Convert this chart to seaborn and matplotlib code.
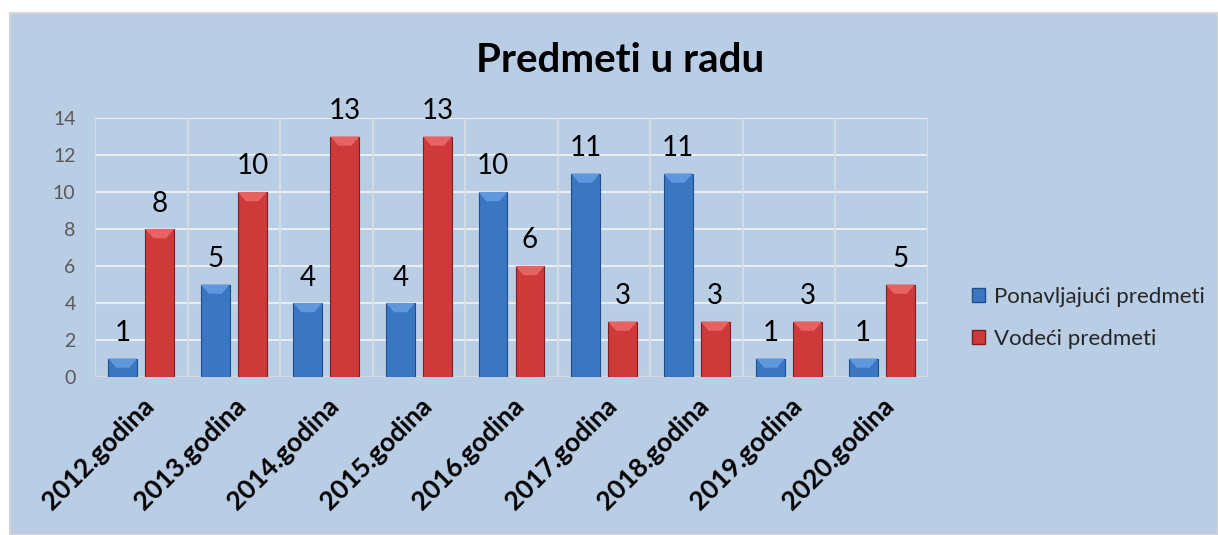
import pandas as pd
import seaborn as sns
import matplotlib.pyplot as plt
from matplotlib.patches import Rectangle, Polygon

# Data
years = ['2012.godina', '2013.godina', '2014.godina', '2015.godina', '2016.godina',
         '2017.godina', '2018.godina', '2019.godina', '2020.godina']
ponavljajuci = [1, 5, 4, 4, 10, 11, 11, 1, 1]
vodeci = [8, 10, 13, 13, 6, 3, 3, 3, 5]
series_names = ['Ponavljajući predmeti', 'Vodeći predmeti']

df = pd.DataFrame({'Godina': years * 2,
                   'Broj': ponavljajuci + vodeci,
                   'Vrsta': [series_names[0]] * len(years) + [series_names[1]] * len(years)})

sns.set_theme(style='white')
plt.rcParams['font.family'] = ['Lato', 'DejaVu Sans']

bg = '#B9CDE5'
colors = {series_names[0]: '#3A76C2', series_names[1]: '#CE3A3A'}
edges = {series_names[0]: '#1F4E8C', series_names[1]: '#7E1F1F'}
bevels = {series_names[0]: '#5F98DD', series_names[1]: '#E86262'}

fig = plt.figure(figsize=(12.18, 5.35), dpi=100)
fig.patch.set_facecolor('white')
fig.patches.append(Rectangle((10 / 1218, 0), 1 - 10 / 1218, 1 - 13 / 535, transform=fig.transFigure,
                             facecolor=bg, edgecolor='#D6D6D6', linewidth=1.5, zorder=-5))

ax = fig.add_axes([95 / 1218, 1 - 377 / 535, (928 - 95) / 1218, (377 - 118) / 535])
ax.set_facecolor(bg)

sns.barplot(data=df, x='Godina', y='Broj', hue='Vrsta', palette=colors, width=0.8, gap=0.22,
            saturation=1, ax=ax, legend=False, zorder=3)

# simple bevel look on each bar
for cont, name in zip(ax.containers, series_names):
    for bar in cont:
        bar.set_edgecolor(edges[name])
        bar.set_linewidth(0.8)
        x, w, h = bar.get_x(), bar.get_width(), bar.get_height()
        d = 0.5
        ax.add_patch(Polygon([(x, h), (x + w, h), (x + w * 0.72, h - d), (x + w * 0.28, h - d)],
                             closed=True, facecolor=bevels[name], edgecolor='none', zorder=4))
    ax.bar_label(cont, padding=9, fontsize=20, color='black')

ax.set_ylim(0, 14)
ax.set_xlim(-0.5, len(years) - 0.5)
ax.set_yticks(range(0, 15, 2))
ax.yaxis.grid(True, color='#E8EEF6', linewidth=1.5, zorder=0)
for i in range(len(years) + 1):
    ax.axvline(i - 0.5, color='#D9DEE6', linewidth=1.2, zorder=1)
for s in ax.spines.values():
    s.set_visible(False)
ax.axhline(0, color='#D9D9D9', linewidth=1.5, zorder=2)

ax.set_xlabel('')
ax.set_ylabel('')
ax.tick_params(axis='y', labelsize=14, labelcolor='#595959', length=0, pad=14)
ax.tick_params(axis='x', length=0, pad=12)
plt.setp(ax.get_xticklabels(), rotation=45, ha='right', rotation_mode='anchor',
         fontsize=19, fontweight='bold', color='black')

fig.text(620 / 1218, 1 - 60 / 535, 'Predmeti u radu', ha='center', va='center',
         fontsize=29, fontweight='bold', color='black')

handles = [Rectangle((0, 0), 1, 1, facecolor=colors[n], edgecolor=edges[n]) for n in series_names]
fig.legend(handles, series_names, loc='center left', bbox_to_anchor=(952 / 1218, 1 - 318 / 535),
           frameon=False, fontsize=16, handlelength=0.6, handleheight=0.6, handletextpad=0.4,
           labelspacing=1.0)

fig.savefig('out.png', dpi=100, facecolor=fig.get_facecolor())
